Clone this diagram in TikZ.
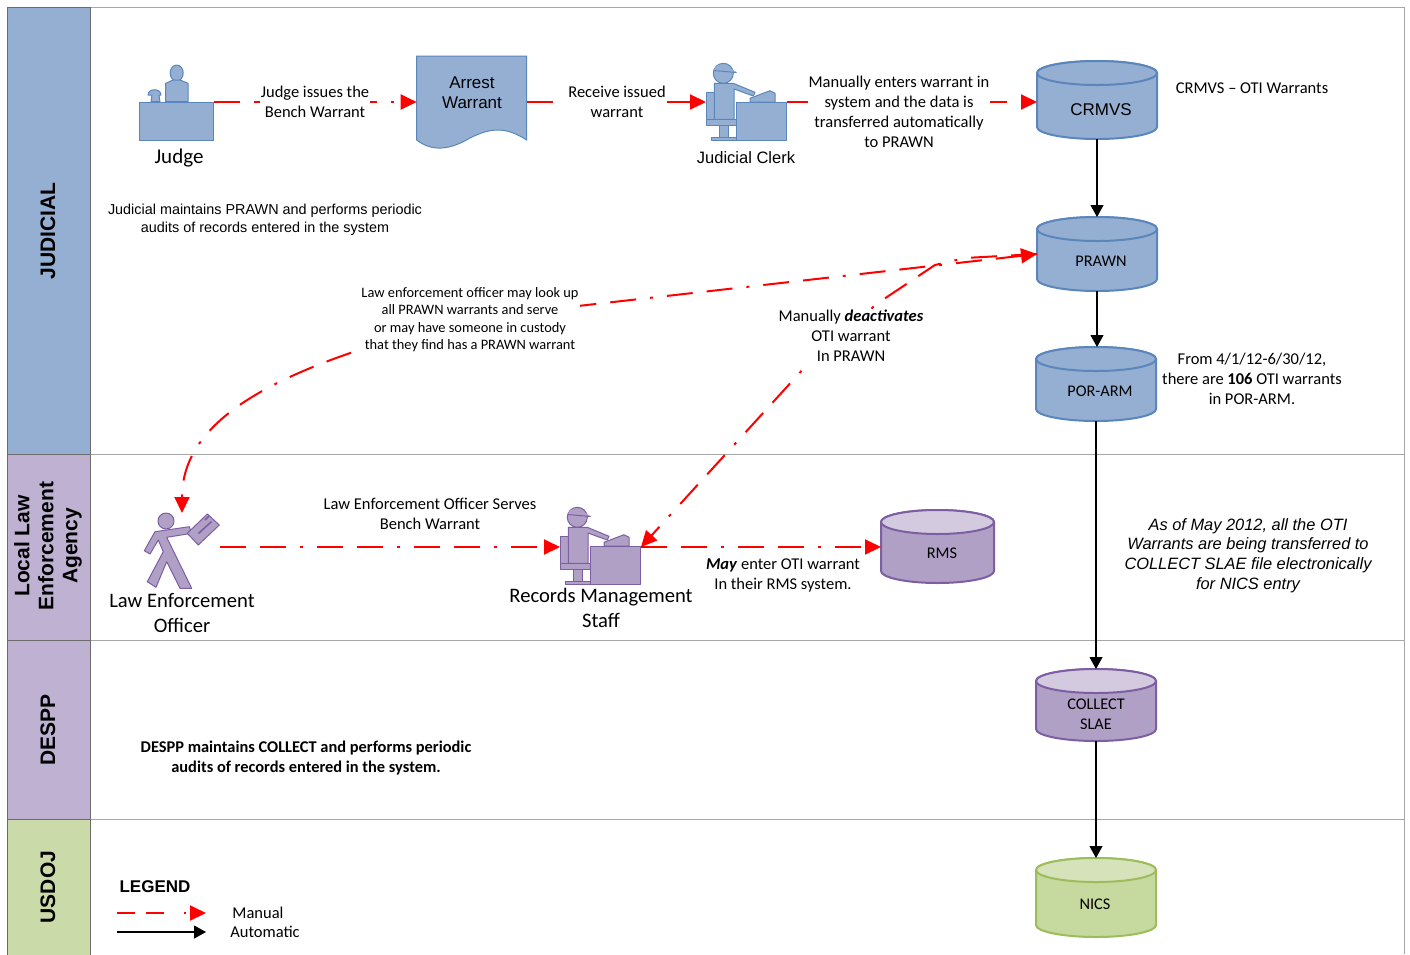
\documentclass[tikz,border=0pt]{standalone}
\usepackage{fontspec}
\setmainfont{Carlito}
\newfontfamily\arialf{Liberation Sans}
\usetikzlibrary{arrows.meta}
\definecolor{bluefill}{HTML}{95AFD2}
\definecolor{bluestroke}{HTML}{5A86BC}
\definecolor{purpfill}{HTML}{B0A0C6}
\definecolor{purptop}{HTML}{D3CAE0}
\definecolor{purpstroke}{HTML}{7D5EA3}
\definecolor{greenfill}{HTML}{C6D99E}
\definecolor{greentop}{HTML}{D6E3BA}
\definecolor{greenstroke}{HTML}{9DBC5B}
\definecolor{lanepurple}{HTML}{BFB1D1}
\definecolor{lanegreen}{HTML}{CBDAA9}
\definecolor{lanegray}{HTML}{A6A6A6}
\newcommand{\fsz}[2]{\fontsize{#1}{#2}\selectfont}
\tikzset{
  x=1pt,y=-1pt,
  lane/.style={draw=gray!85!black,line width=0.7pt,minimum width=83pt,inner sep=0pt},
  lanetext/.style={font=\arialf\bfseries\fsz{21}{24},rotate=90,align=center,text=black},
  lbl/.style={align=center,inner sep=1pt,text=black,font=\fsz{16.5}{20}},
  cover/.style={lbl,fill=white},
  dbtext/.style={lbl,font=\fsz{16.3}{20}},
  ghost/.style={inner sep=0pt,outer sep=0pt},
  manualline/.style={draw=red,line width=2pt,dash pattern=on 26pt off 14pt on 26pt off 14pt on 3pt off 14pt,
     -{Triangle[length=16pt,width=15pt,fill=red]}},
  bothends/.style={manualline,{Triangle[length=16pt,width=15pt,fill=red]}-{Triangle[length=16pt,width=15pt,fill=red]}},
  autoline/.style={draw=black,line width=1.1pt,-{Triangle[length=12pt,width=13pt,black]}},
}
\newcommand{\cyl}[9]{%
  \pgfmathsetmacro{\cylxc}{(#2+#4)/2}%
  \pgfmathsetmacro{\cylhw}{(#4-#2)/2}%
  \pgfmathsetmacro{\cylkk}{0.55*\cylhw}%
  \pgfmathsetmacro{\cyltm}{#3+12}%
  \pgfmathsetmacro{\cyltb}{#3+24}%
  \pgfmathsetmacro{\cylbm}{#5-12}%
  \pgfmathsetmacro{\cylcy}{(#3+#5)/2}%
  \pgfmathsetmacro{\cylh}{#5-#3}%
  \pgfmathsetmacro{\cylw}{#4-#2}%
  \draw[line width=2pt,draw=#7,fill=#6] (#2,\cyltm) .. controls (#2,#3+5.4) and (\cylxc-\cylkk,#3) .. (\cylxc,#3)
     .. controls (\cylxc+\cylkk,#3) and (#4,#3+5.4) .. (#4,\cyltm) -- (#4,\cylbm)
     .. controls (#4,#5-5.4) and (\cylxc+\cylkk,#5) .. (\cylxc,#5)
     .. controls (\cylxc-\cylkk,#5) and (#2,#5-5.4) .. (#2,\cylbm) -- cycle;
  \draw[line width=2pt,draw=#7,fill=#8] (#2,\cyltm) .. controls (#2,#3+5.4) and (\cylxc-\cylkk,#3) .. (\cylxc,#3)
     .. controls (\cylxc+\cylkk,#3) and (#4,#3+5.4) .. (#4,\cyltm)
     .. controls (#4,\cyltb-5.4) and (\cylxc+\cylkk,\cyltb) .. (\cylxc,\cyltb)
     .. controls (\cylxc-\cylkk,\cyltb) and (#2,\cyltb-5.4) .. (#2,\cyltm) -- cycle;
  \node[ghost,minimum width=\cylw pt,minimum height=\cylh pt] (#1) at (\cylxc,\cylcy) {};
  #9%
}
\newcommand{\clerkicon}[4]{%
 \begin{scope}[shift={(#1,#2)},draw=#4,fill=#3,line width=1pt,line join=round]
  \filldraw (706,92.3) -- (714.3,92.3) -- (714.3,119.3) -- (706,119.3) -- cycle;
  \filldraw (706,119.3) -- (736.7,119.3) -- (736.7,125.3) -- (706,125.3) -- cycle;
  \filldraw (719.3,125.3) -- (728.3,125.3) -- (728.3,137.3) -- (719.3,137.3) -- cycle;
  \filldraw (711,137.3) -- (737,137.3) -- (737,140) -- (711,140) -- cycle;
  \filldraw (714.3,83.3) -- (733.3,83.3) -- (755,92.3) -- (753.3,96) -- (734,89) -- (734,119.3) -- (714.3,119.3) -- cycle;
  \filldraw (750,102) -- (750,98.3) -- (770,90.7) -- (775,93.3) -- (775,102) -- cycle;
  \filldraw (723.3,73.3) circle[radius=10];
  \fill (714,70) .. controls (715,64) and (722,64) .. (727,66) -- (737,72.5) -- (714,71) -- cycle;
  \draw (713.5,70.5) -- (736.5,72.5);
  \filldraw (736.7,102.3) rectangle (786.7,140);
 \end{scope}%
}
\begin{document}
\begin{tikzpicture}
\useasboundingbox (0,0) rectangle (1410,954);
% frame and lanes
\draw[lanegray,line width=0.7pt] (90,7.5) -- (1404.5,7.5) -- (1404.5,954);
\draw[lanegray,line width=0.7pt] (90,454) -- (1404.5,454);
\draw[lanegray,line width=0.7pt] (90,640) -- (1404.5,640);
\draw[lanegray,line width=0.7pt] (90,819) -- (1404.5,819);
\node[lane,fill=bluefill,minimum height=446.5pt] (laneJ) at (49,230.75) {};
\node[lane,fill=lanepurple,minimum height=186pt] (laneL) at (49,547) {};
\node[lane,fill=lanepurple,minimum height=179pt] (laneD) at (49,729.5) {};
\node[lane,fill=lanegreen,minimum height=137pt] (laneU) at (49,887.5) {};
\node[lanetext] (tJ) at (48,231) {JUDICIAL};
\node[lanetext] (tL) at (48,546) {Local Law\\Enforcement\\Agency};
\node[lanetext] (tD) at (48,730) {DESPP};
\node[lanetext] (tU) at (48,887) {USDOJ};

% judge icon
\begin{scope}[draw=bluestroke,fill=bluefill,line width=1pt,line join=round]
  \filldraw (176.7,73) ellipse[x radius=6.5,y radius=8];
  \filldraw (165.7,83.3) -- (173,80) -- (180,80) -- (188,83.3) -- (188,101.7) -- (165.7,101.7) -- cycle;
  \filldraw (148,95) .. controls (148,88) and (161,88) .. (161,95) -- (159,95) -- (160,101.7) -- (151,101.7) -- (152,95) -- cycle;
\end{scope}
\node[ghost,draw=bluestroke,fill=bluefill,line width=1pt,minimum width=74pt,minimum height=38pt] (judge) at (176.5,121) {};
% arrest warrant
\draw[draw=bluestroke,fill=bluefill,line width=1pt] (416.7,56) -- (526.7,56) -- (526.7,140)
  .. controls (505,126) and (490,128) .. (470,138) .. controls (450,150) and (432,152) .. (416.7,140) -- cycle;
\node[ghost,minimum width=110pt,minimum height=84pt] (arrest) at (471.7,98) {};
\clerkicon{0}{0}{bluefill}{bluestroke}
\node[ghost,minimum width=81pt,minimum height=38pt] (clerk) at (746.5,121) {};
\clerkicon{-146}{444}{purpfill}{purpstroke}
\node[ghost,minimum width=81pt,minimum height=38pt] (records) at (600.5,566) {};
% law enforcement icon
\begin{scope}[draw=purpstroke,fill=purpfill,line width=1pt,line join=round]
  \filldraw (166,521) circle[radius=8];
  \filldraw (155,531.7) -- (189.3,526.7) -- (191.7,533.3) -- (166.7,537.3) -- (191.7,588.3) -- (180,588.3) -- (166.7,561.7) -- (156,587.3) -- (147.3,581.7) -- (163.3,551.7) -- (158.3,540) -- (150,554) -- (144.3,550.7) -- cycle;
  \filldraw (207.3,514) -- (219.3,525) -- (198.3,545) -- (187.3,533.3) -- cycle;
  \draw[line width=1.6pt] (198.5,533.5) -- (211.5,521.5);
  \draw[line width=1.6pt] (205,520) -- (209.5,515.5);
\end{scope}
\node[ghost,minimum width=76pt,minimum height=76pt] (officer) at (182,551) {};

% cylinders
\cyl{crmvs}{1037}{61}{1157}{139}{bluefill}{bluestroke}{bluefill}{}
\cyl{prawn}{1037}{217}{1157}{291}{bluefill}{bluestroke}{bluefill}{}
\cyl{porarm}{1036}{347}{1156}{421}{bluefill}{bluestroke}{bluefill}{}
\cyl{rms}{881}{510}{994}{583}{purpfill}{purpstroke}{purptop}{}
\cyl{collect}{1036}{669}{1156}{741}{purpfill}{purpstroke}{purptop}{}
\cyl{nics}{1036}{858}{1156}{937}{greenfill}{greenstroke}{greentop}{}
\node[lbl,font=\arialf\fsz{17}{20}] (tcrmvs) at (1101,110) {CRMVS};
\node[dbtext] (tprawn) at (1101,261.5) {PRAWN};
\node[dbtext] (tporarm) at (1100,391.5) {POR-ARM};
\node[dbtext] (trms) at (942,553.5) {RMS};
\node[dbtext] (tcollect) at (1096,714.5) {COLLECT\\SLAE};
\node[dbtext] (tnics) at (1095,904.5) {NICS};
\node[lbl,font=\arialf\fsz{17}{20}] (tarrest) at (472,93) {Arrest\\Warrant};

% connectors
\draw[manualline] (judge.north east) -- (arrest.west |- judge.north east);
\draw[manualline] (arrest.east |- judge.north east) -- (clerk.west |- judge.north east);
\draw[manualline] (clerk.east |- judge.north east) -- (crmvs.west |- judge.north east);
\draw[autoline] (crmvs.south) -- (prawn.north);
\draw[autoline] (prawn.south) -- (prawn.south |- porarm.north);
\draw[autoline] (porarm.south) -- (collect.north);
\draw[autoline] (collect.south) -- (nics.north);

\node[ghost] (lawmid) at (472,318) {};
\node[ghost] (deactmid) at (845,336) {};
\draw[bothends] (prawn.west) -- (lawmid.center) .. controls (285,364) and (182,415) .. (officer.north);
\draw[manualline] (prawn.west) -- (965,258) -- (935,265) -- (875,305) -- (deactmid.center) -- (805,367) -- (records.north east);
\draw[manualline] (officer.east |- records.north east) -- (records.west |- records.north east);
\draw[manualline] (records.north east) -- (rms.west |- records.north east);

% labels
\node[lbl,font=\fsz{21}{25}] (njudge) at (179,158.5) {Judge};
\node[cover] (l1) at (315,102) {Judge issues the\\Bench Warrant};
\node[cover] (l2) at (617,102) {Receive issued\\warrant};
\node[lbl,font=\arialf\fsz{16.5}{20}] (nclerk) at (746,158) {Judicial Clerk};
\node[cover] (l3) at (899,111.5) {Manually enters warrant in\\system and the data is\\transferred automatically\\to PRAWN};
\node[lbl] (l4) at (1252,88.5) {CRMVS -- OTI Warrants};
\node[lbl,font=\arialf\fsz{14.4}{18}] (l5) at (265,219.5) {Judicial maintains PRAWN and performs periodic\\audits of records entered in the system};
\node[cover,font=\fsz{14.4}{17.4}] (l6) at (470,319.5) {Law enforcement officer may look up\\all PRAWN warrants and serve\\or may have someone in custody\\that they find has a PRAWN warrant};
\node[cover] (l7) at (851,336) {Manually \textbf{\textit{deactivates}}\\OTI warrant\\In PRAWN};
\node[lbl] (l8) at (1252,379) {From 4/1/12-6/30/12,\\there are \textbf{106} OTI warrants\\in POR-ARM.};
\node[lbl] (l9) at (430,514) {Law Enforcement Officer Serves\\Bench Warrant};
\node[lbl,font=\fsz{20.6}{25}] (nofficer) at (182,613) {Law Enforcement\\Officer};
\node[lbl,font=\fsz{20.6}{25}] (nrecords) at (601,608) {Records Management\\Staff};
\node[lbl] (l10) at (783,575) {\textbf{\textit{May}} enter OTI warrant\\In their RMS system.};
\node[lbl,font=\arialf\itshape\fsz{16.4}{19.6}] (l11) at (1248,555.5) {As of May 2012, all the OTI\\Warrants are being transferred to\\COLLECT SLAE file electronically\\for NICS entry};
\node[lbl,font=\bfseries\fsz{16.4}{20}] (l12) at (306,758.5) {DESPP maintains COLLECT and performs periodic\\audits of records entered in the system.};

% legend
\node[lbl,font=\arialf\bfseries\fsz{17}{20}] (lg) at (155,886.5) {LEGEND};
\node[lbl] (lgm) at (258,913) {Manual};
\node[lbl] (lga) at (265,932) {Automatic};
\coordinate (lg1a) at (117,913);
\coordinate (lg1b) at (206,913);
\coordinate (lg2a) at (117,932);
\coordinate (lg2b) at (206,932);
\draw[manualline,dash pattern=on 18pt off 11pt on 18pt off 20pt on 2pt off 10pt] (lg1a) -- (lg1b);
\draw[autoline] (lg2a) -- (lg2b);
\end{tikzpicture}
\end{document}
